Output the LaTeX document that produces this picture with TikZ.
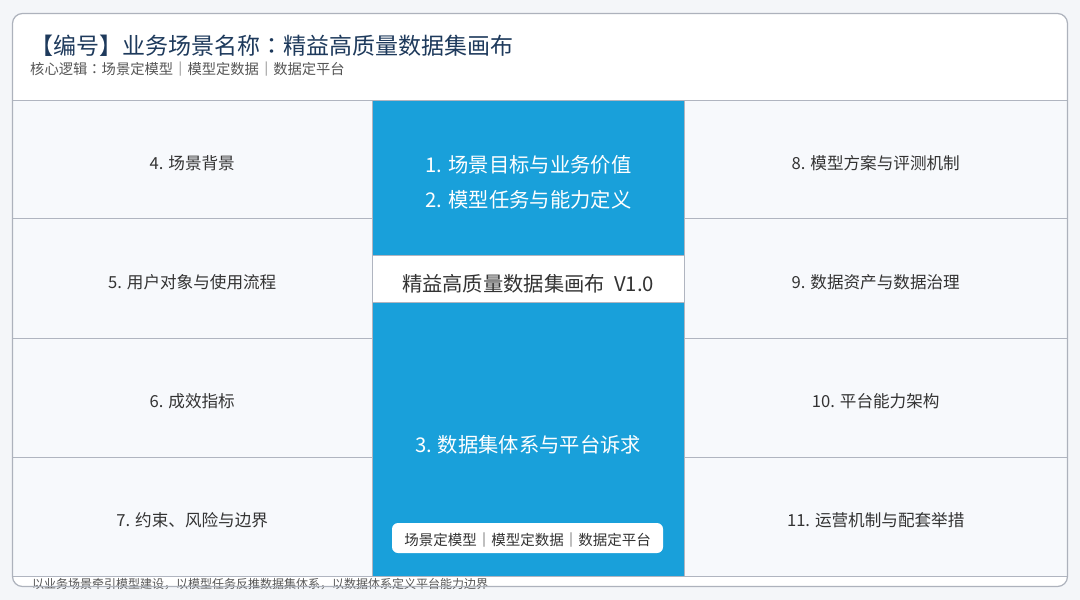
\documentclass[tikz,border=0pt]{standalone}
\usepackage{fontspec}
\setmainfont{Noto Sans CJK SC}
\newfontfamily\jpfont{Noto Sans CJK JP}
\newcommand{\ccolon}{{\jpfont ：}}
\definecolor{pagebg}{HTML}{F4F6F9}
\definecolor{cellfill}{HTML}{F7F9FC}
\definecolor{linegray}{HTML}{B0B5C0}
\definecolor{framegray}{HTML}{ADB2BC}
\definecolor{blue}{HTML}{19A0DA}
\definecolor{navy}{HTML}{1E3A5C}
\definecolor{textdark}{HTML}{333333}
\definecolor{textgray}{HTML}{555555}
\begin{document}
\begin{tikzpicture}[x=1pt,y=-1pt,
  cell/.style={draw=linegray, fill=cellfill, line width=1pt, inner sep=0pt, outer sep=0pt,
    anchor=north west},
  celltext/.style={inner sep=0pt, font=\fontsize{16.6}{19}\selectfont, text=textdark, yshift=-4pt},
  bluebox/.style={draw=linegray, fill=blue, line width=1pt, inner sep=0pt, outer sep=0pt, anchor=north west},
  whitebox/.style={draw=linegray, fill=white, line width=1pt, inner sep=0pt, outer sep=0pt, anchor=north west},
  bluetext/.style={text=white, font=\fontsize{20.3}{35}\selectfont, align=center, inner sep=0pt},
  pillbox/.style={fill=white, rounded corners=6pt, minimum width=271pt, minimum height=30pt,
    inner sep=0pt},
  pilltext/.style={inner sep=0pt, text=textdark, font=\fontsize{14.5}{16}\selectfont},
  framestyle/.style={draw=framegray, line width=1.2pt, rounded corners=10pt}
]
\useasboundingbox (0,0) rectangle (1080,600);
\fill[pagebg] (0,0) rectangle (1080,600);
\fill[white, rounded corners=10pt] (12.5,13.5) rectangle (1067.5,586.5);

% title
\node[anchor=west, inner sep=0pt, text=navy, font=\fontsize{23}{26}\selectfont] (title) at (30,46) {【编号】业务场景名称\ccolon 精益高质量数据集画布};
\node[anchor=west, inner sep=0pt, text=textgray, font=\fontsize{14.3}{16}\selectfont] (subtitle) at (30,69) {核心逻辑\ccolon 场景定模型｜模型定数据｜数据定平台};

% left column
\node[cell, minimum width=359.5pt, minimum height=118pt] (c4) at (12.5,100) {};
\node[cell, minimum width=359.5pt, minimum height=120pt] (c5) at (12.5,218) {};
\node[cell, minimum width=359.5pt, minimum height=119pt] (c6) at (12.5,338) {};
\node[cell, minimum width=359.5pt, minimum height=119pt] (c7) at (12.5,457) {};
\node[celltext] (t4) at (c4.center) {4. 场景背景};
\node[celltext] (t5) at (c5.center) {5. 用户对象与使用流程};
\node[celltext] (t6) at (c6.center) {6. 成效指标};
\node[celltext] (t7) at (c7.center) {7. 约束、风险与边界};

% right column
\node[cell, minimum width=383.5pt, minimum height=118pt] (c8) at (684,100) {};
\node[cell, minimum width=383.5pt, minimum height=120pt] (c9) at (684,218) {};
\node[cell, minimum width=383.5pt, minimum height=119pt] (c10) at (684,338) {};
\node[cell, minimum width=383.5pt, minimum height=119pt] (c11) at (684,457) {};
\node[celltext] (t8) at (c8.center) {8. 模型方案与评测机制};
\node[celltext] (t9) at (c9.center) {9. 数据资产与数据治理};
\node[celltext] (t10) at (c10.center) {10. 平台能力架构};
\node[celltext] (t11) at (c11.center) {11. 运营机制与配套举措};

% center column
\node[bluebox, minimum width=312pt, minimum height=155pt] (ctop) at (372,100) {};
\node[whitebox, minimum width=312pt, minimum height=47pt] (cmid) at (372,255) {};
\node[bluebox, minimum width=312pt, minimum height=274pt] (cbot) at (372,302) {};

\node[bluetext] (ttop) at (528.5,182.5) {1. 场景目标与业务价值\\2. 模型任务与能力定义};
\node[inner sep=0pt, text=textdark, font=\fontsize{20.3}{23}\selectfont] (tmid) at (528,284) {精益高质量数据集画布\hspace{9pt}V1.0};
\node[bluetext] (tbot) at (528,445) {3. 数据集体系与平台诉求};
\node[pillbox] (pill) at (527.5,538) {};
\node[pilltext] (tpill) at (527.5,540) {场景定模型｜模型定数据｜数据定平台};

% footer
\node[anchor=west, inner sep=0pt, text=textgray, font=\fontsize{12}{14}\selectfont] (footer) at (32,584.5) {以业务场景牵引模型建设，以模型任务反推数据集体系，以数据体系定义平台能力边界};

% frame on top
\draw[framestyle] (12.5,13.5) rectangle (1067.5,586.5);
\end{tikzpicture}
\end{document}
